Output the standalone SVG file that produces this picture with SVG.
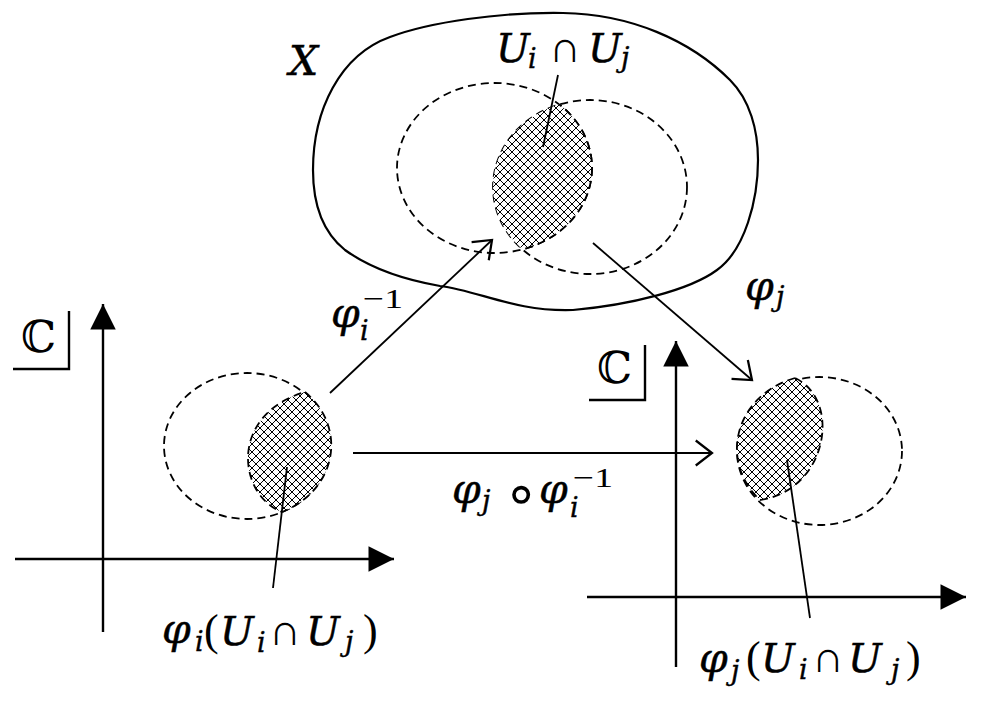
<svg xmlns="http://www.w3.org/2000/svg" width="984" height="714" viewBox="0 0 984 714">
<style>
  .solid{fill:none;stroke:#000;stroke-width:2.2;stroke-linejoin:round}
  .dash{fill:none;stroke:#000;stroke-width:1.8;stroke-dasharray:8 5}
  .hatchfill{fill:url(#hatch);stroke:#000;stroke-width:1.8;stroke-dasharray:8 5}
  .axis{fill:none;stroke:#000;stroke-width:2.4}
  .map{fill:none;stroke:#000;stroke-width:1.8;marker-end:url(#openArrow)}
  .ptr{fill:none;stroke:#000;stroke-width:1.8}
  .box{fill:none;stroke:#000;stroke-width:2.4}
  text{font-family:"Liberation Serif","DejaVu Serif",serif;fill:#000;font-size:44px}
  .it{font-family:"DejaVu Serif","Liberation Serif",serif;font-style:italic;font-size:40px;stroke:#000;stroke-width:0.5}
  .phi{font-family:"DejaVu Serif","Liberation Serif",serif;font-style:italic;font-size:41px;stroke:#000;stroke-width:0.5}
  .sub{font-family:"DejaVu Serif","Liberation Serif",serif;font-style:italic;font-size:27px;stroke:#000;stroke-width:0.4}
  .sup{font-size:28px}
  .ring{font-family:"DejaVu Sans","DejaVu Serif",sans-serif;font-size:58px}
  .bb{font-family:"DejaVu Serif","Liberation Serif",serif;font-size:44px}
</style>
<defs>
  <pattern id="hatch" patternUnits="userSpaceOnUse" width="8" height="8">
    <rect width="8" height="8" fill="#fff"/>
    <path d="M0,0 L8,8 M8,0 L0,8" stroke="#000" stroke-width="1" shape-rendering="crispEdges"/>
  </pattern>
  <marker id="openArrow" markerUnits="userSpaceOnUse" markerWidth="30" markerHeight="30" refX="0" refY="0" viewBox="-16 -12 20 24" orient="auto" overflow="visible">
    <path d="M-13,-10 L0,0 L-13,10" fill="none" stroke="#000" stroke-width="1.8"/>
  </marker>
  <marker id="solidArrow" markerUnits="userSpaceOnUse" markerWidth="30" markerHeight="30" refX="0" refY="0" viewBox="-18 -10 20 20" orient="auto" overflow="visible">
    <path d="M-17,-8.5 L0,0 L-17,8.5 Z" fill="#000"/>
  </marker>
  <clipPath id="clipRight">
    <ellipse cx="590" cy="187" rx="97" ry="87"/>
  </clipPath>
</defs>
<rect width="984" height="714" fill="#fff"/>

<g id="space-X">
  <path class="solid" d="M313,170 C313,110 340,55 390,37 C430,22 500,12 563,13 C630,14 690,40 730,80 C750,100 758,130 758,160 C758,200 745,250 717,270 C690,290 630,305 573,310 C515,312 480,291 440,286 C400,279 370,268 345,250 C320,230 313,200 313,170 Z"/>
  <text class="it" x="289" y="75" style="font-size:41px">X</text>
</g>

<g id="U-i">
  <ellipse class="dash" cx="494.5" cy="168" rx="97.5" ry="85"/>
</g>
<g id="U-j">
  <ellipse class="dash" cx="590" cy="187" rx="97" ry="87"/>
</g>
<g id="intersection">
  <ellipse cx="494.5" cy="168" rx="97.5" ry="85" fill="url(#hatch)" clip-path="url(#clipRight)"/>
  <ellipse class="dash" cx="494.5" cy="168" rx="97.5" ry="85" clip-path="url(#clipRight)"/>
  <line class="ptr" x1="558" y1="75" x2="543" y2="147"/>
  <text><tspan class="it" x="496" y="62">U</tspan><tspan class="sub" x="528" y="68">i</tspan><tspan x="549" y="62">∩</tspan><tspan class="it" x="588" y="62">U</tspan><tspan class="sub" x="621" y="67">j</tspan></text>
</g>

<g id="chart-i">
  <line class="axis" x1="103" y1="632" x2="103" y2="304" marker-end="url(#solidArrow)"/>
  <line class="axis" x1="15" y1="559" x2="394" y2="559" marker-end="url(#solidArrow)"/>
  <path class="box" d="M69,311 L69,369 L13,369"/>
  <text class="bb" x="21" y="352">ℂ</text>
  <ellipse class="dash" cx="247" cy="446" rx="83" ry="73"/>
  <path class="hatchfill" d="M305,392 A83,73 0 0 1 282,512 C238,495 228,415 305,392 Z"/>
  <line class="ptr" x1="287" y1="467" x2="273" y2="588"/>
  <text><tspan class="phi" x="162" y="643">φ</tspan><tspan class="sub" x="195" y="651">i</tspan><tspan x="204" y="645">(</tspan><tspan class="it" x="220" y="645">U</tspan><tspan class="sub" x="257" y="652">i</tspan><tspan x="269" y="645">∩</tspan><tspan class="it" x="306" y="645">U</tspan><tspan class="sub" x="345" y="651">j</tspan><tspan x="363" y="645">)</tspan></text>
</g>

<g id="chart-j">
  <line class="axis" x1="676" y1="667" x2="676" y2="341" marker-end="url(#solidArrow)"/>
  <line class="axis" x1="587" y1="597" x2="966" y2="597" marker-end="url(#solidArrow)"/>
  <path class="box" d="M645,345 L645,400 L589,400"/>
  <text class="bb" x="597" y="383">ℂ</text>
  <ellipse class="dash" cx="819.5" cy="451" rx="82.5" ry="74"/>
  <path class="hatchfill" d="M795,378 A82.5,74 0 0 0 760,500 C828,490 842,400 795,378 Z"/>
  <line class="ptr" x1="787" y1="460" x2="810" y2="618"/>
  <text><tspan class="phi" x="699" y="672">φ</tspan><tspan class="sub" x="731" y="680">j</tspan><tspan x="746" y="672">(</tspan><tspan class="it" x="761" y="672">U</tspan><tspan class="sub" x="799" y="679">i</tspan><tspan x="812" y="672">∩</tspan><tspan class="it" x="848" y="672">U</tspan><tspan class="sub" x="891" y="679">j</tspan><tspan x="906" y="672">)</tspan></text>
</g>

<g id="connectors">
  <line class="map" x1="330" y1="393" x2="492" y2="240"/>
  <line class="map" x1="593" y1="243" x2="752" y2="380"/>
  <line class="map" x1="353" y1="453" x2="712" y2="453"/>
  <text><tspan class="phi" x="331" y="327">φ</tspan><tspan class="sub" x="360" y="340">i</tspan><tspan class="sup" x="363" y="308" textLength="40" lengthAdjust="spacingAndGlyphs">−1</tspan></text>
  <text><tspan class="phi" x="745" y="300">φ</tspan><tspan class="sub" x="776" y="306">j</tspan></text>
  <text><tspan class="phi" x="452" y="503">φ</tspan><tspan class="sub" x="482" y="510">j</tspan><tspan class="ring" x="503" y="513">∘</tspan><tspan class="phi" x="539" y="503">φ</tspan><tspan class="sub" x="570" y="517">i</tspan><tspan class="sup" x="573" y="487" textLength="40" lengthAdjust="spacingAndGlyphs">−1</tspan></text>
</g>
</svg>
